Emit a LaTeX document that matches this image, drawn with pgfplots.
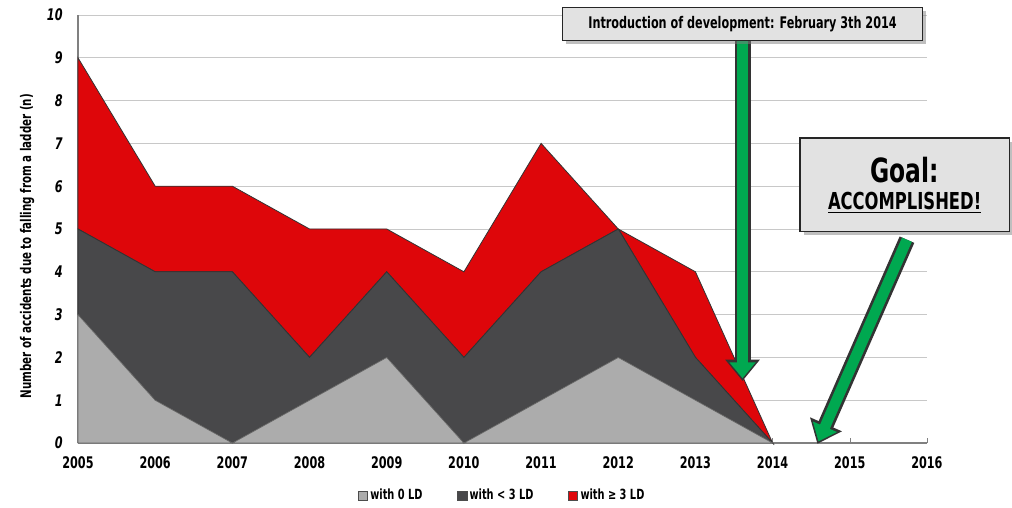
\documentclass[border=0pt]{standalone}
\usepackage{pgfplots}
\pgfplotsset{compat=1.18}
\usepackage{fontspec}
\setmainfont{DejaVu Sans Condensed}[FakeStretch=0.78]
\usetikzlibrary{arrows.meta,shadows}
\definecolor{lightg}{RGB}{172,172,172}
\definecolor{darkg}{RGB}{72,72,74}
\definecolor{redA}{RGB}{222,6,10}
\definecolor{greenA}{RGB}{0,168,80}
\definecolor{gridc}{RGB}{200,200,200}
\definecolor{boxc}{RGB}{226,226,226}
\begin{document}
\begin{tikzpicture}[x=1pt,y=1pt]
\begin{axis}[
  width=636.75pt, height=321pt, scale only axis,
  xmin=2005, xmax=2016, ymin=0, ymax=10,
  xtick={2005,...,2016}, ytick={0,...,10},
  /pgf/number format/1000 sep={},
  /pgf/number format/assume math mode=true,
  axis x line*=bottom, axis y line*=left,
  axis line style={-, gray, line width=0.8pt},
  ymajorgrids, grid style={gridc, line width=0.6pt},
  major tick length=4pt, tick style={gray},
  ytick style={draw=none},
  xticklabel style={font=\bfseries\fontsize{12}{13}\selectfont, yshift=-7pt},
  yticklabel style={font=\bfseries\itshape\fontsize{12}{13}\selectfont, xshift=-8pt},
  ylabel={Number of accidents due to falling from a ladder (n)},
  ylabel style={font=\bfseries\fontsize{11}{12}\selectfont, at={(axis description cs:-0.046,0.46)}, rotate=0, anchor=south},
  stack plots=y,
  clip=false,
  legend style={at={(0.5,-0.095)}, anchor=north, draw=none, fill=none,
    font=\bfseries\fontsize{10.5}{11}\selectfont, legend columns=3,
    /tikz/every even column/.append style={column sep=24pt}},
  legend image code/.code={\fill[#1, draw=black!70, line width=0.3pt] (0pt,-3.5pt) rectangle (7pt,3.5pt);},
]
\addplot[fill=lightg, draw=black!60, line width=0.6pt] coordinates {
 (2005,3) (2006,1) (2007,0) (2008,1) (2009,2) (2010,0) (2011,1) (2012,2) (2013,1) (2014,0)} \closedcycle;
\addlegendentry{with 0 LD}
\addplot[fill=darkg, draw=black!80, line width=0.6pt] coordinates {
 (2005,2) (2006,3) (2007,4) (2008,1) (2009,2) (2010,2) (2011,3) (2012,3) (2013,1) (2014,0)} \closedcycle;
\addlegendentry{with < 3 LD}
\addplot[fill=redA, draw=black!80, line width=0.6pt] coordinates {
 (2005,4) (2006,2) (2007,2) (2008,3) (2009,1) (2010,2) (2011,3) (2012,0) (2013,2) (2014,0)} \closedcycle;
\addlegendentry{with ≥ 3 LD}
\coordinate (a1s) at (axis cs:2013.61,9.4);
\coordinate (a1e) at (axis cs:2013.61,1.45);
\coordinate (a2s) at (axis cs:2015.74,4.75);
\coordinate (a2e) at (axis cs:2014.58,-0.02);
\coordinate (b1) at (axis cs:2013.61,9.79);
\coordinate (b2) at (axis cs:2015.71,6.03);
\end{axis}
% green arrows
\draw[line width=12pt, black!80, -{Triangle[length=16pt,width=25pt]}] (a1s) -- (a1e);
\draw[line width=8pt, greenA, shorten >=2pt, -{Triangle[length=12pt,width=19pt]}] (a1s) -- (a1e);
\draw[line width=12pt, black!80, -{Triangle[length=16pt,width=25pt]}] (a2s) -- (a2e);
\draw[line width=8pt, greenA, shorten >=2pt, -{Triangle[length=12pt,width=19pt]}] (a2s) -- (a2e);
% boxes
\node[draw=black!85, line width=1.2pt, fill=boxc, drop shadow={opacity=0.5},
  minimum width=270pt, minimum height=25pt, inner sep=2pt,
  font=\bfseries\fontsize{12}{13}\selectfont] at (b1)
  {Introduction of development: February 3th 2014};
\node[draw=black!85, line width=1.2pt, fill=boxc, drop shadow={opacity=0.5},
  minimum width=157pt, minimum height=70pt, align=center, inner sep=2pt] at (b2)
  {{\bfseries\fontsize{25}{27}\selectfont Goal:}\\[6pt]{\bfseries\fontsize{17.5}{19}\selectfont\underline{ACCOMPLISHED!}}};
\path (current axis.south west) ++(-58.5pt,-48pt) coordinate (bbsw);
\path (current axis.south west) ++(700.5pt,332.25pt) coordinate (bbne);
\useasboundingbox (bbsw) rectangle (bbne);
\end{tikzpicture}
\end{document}
